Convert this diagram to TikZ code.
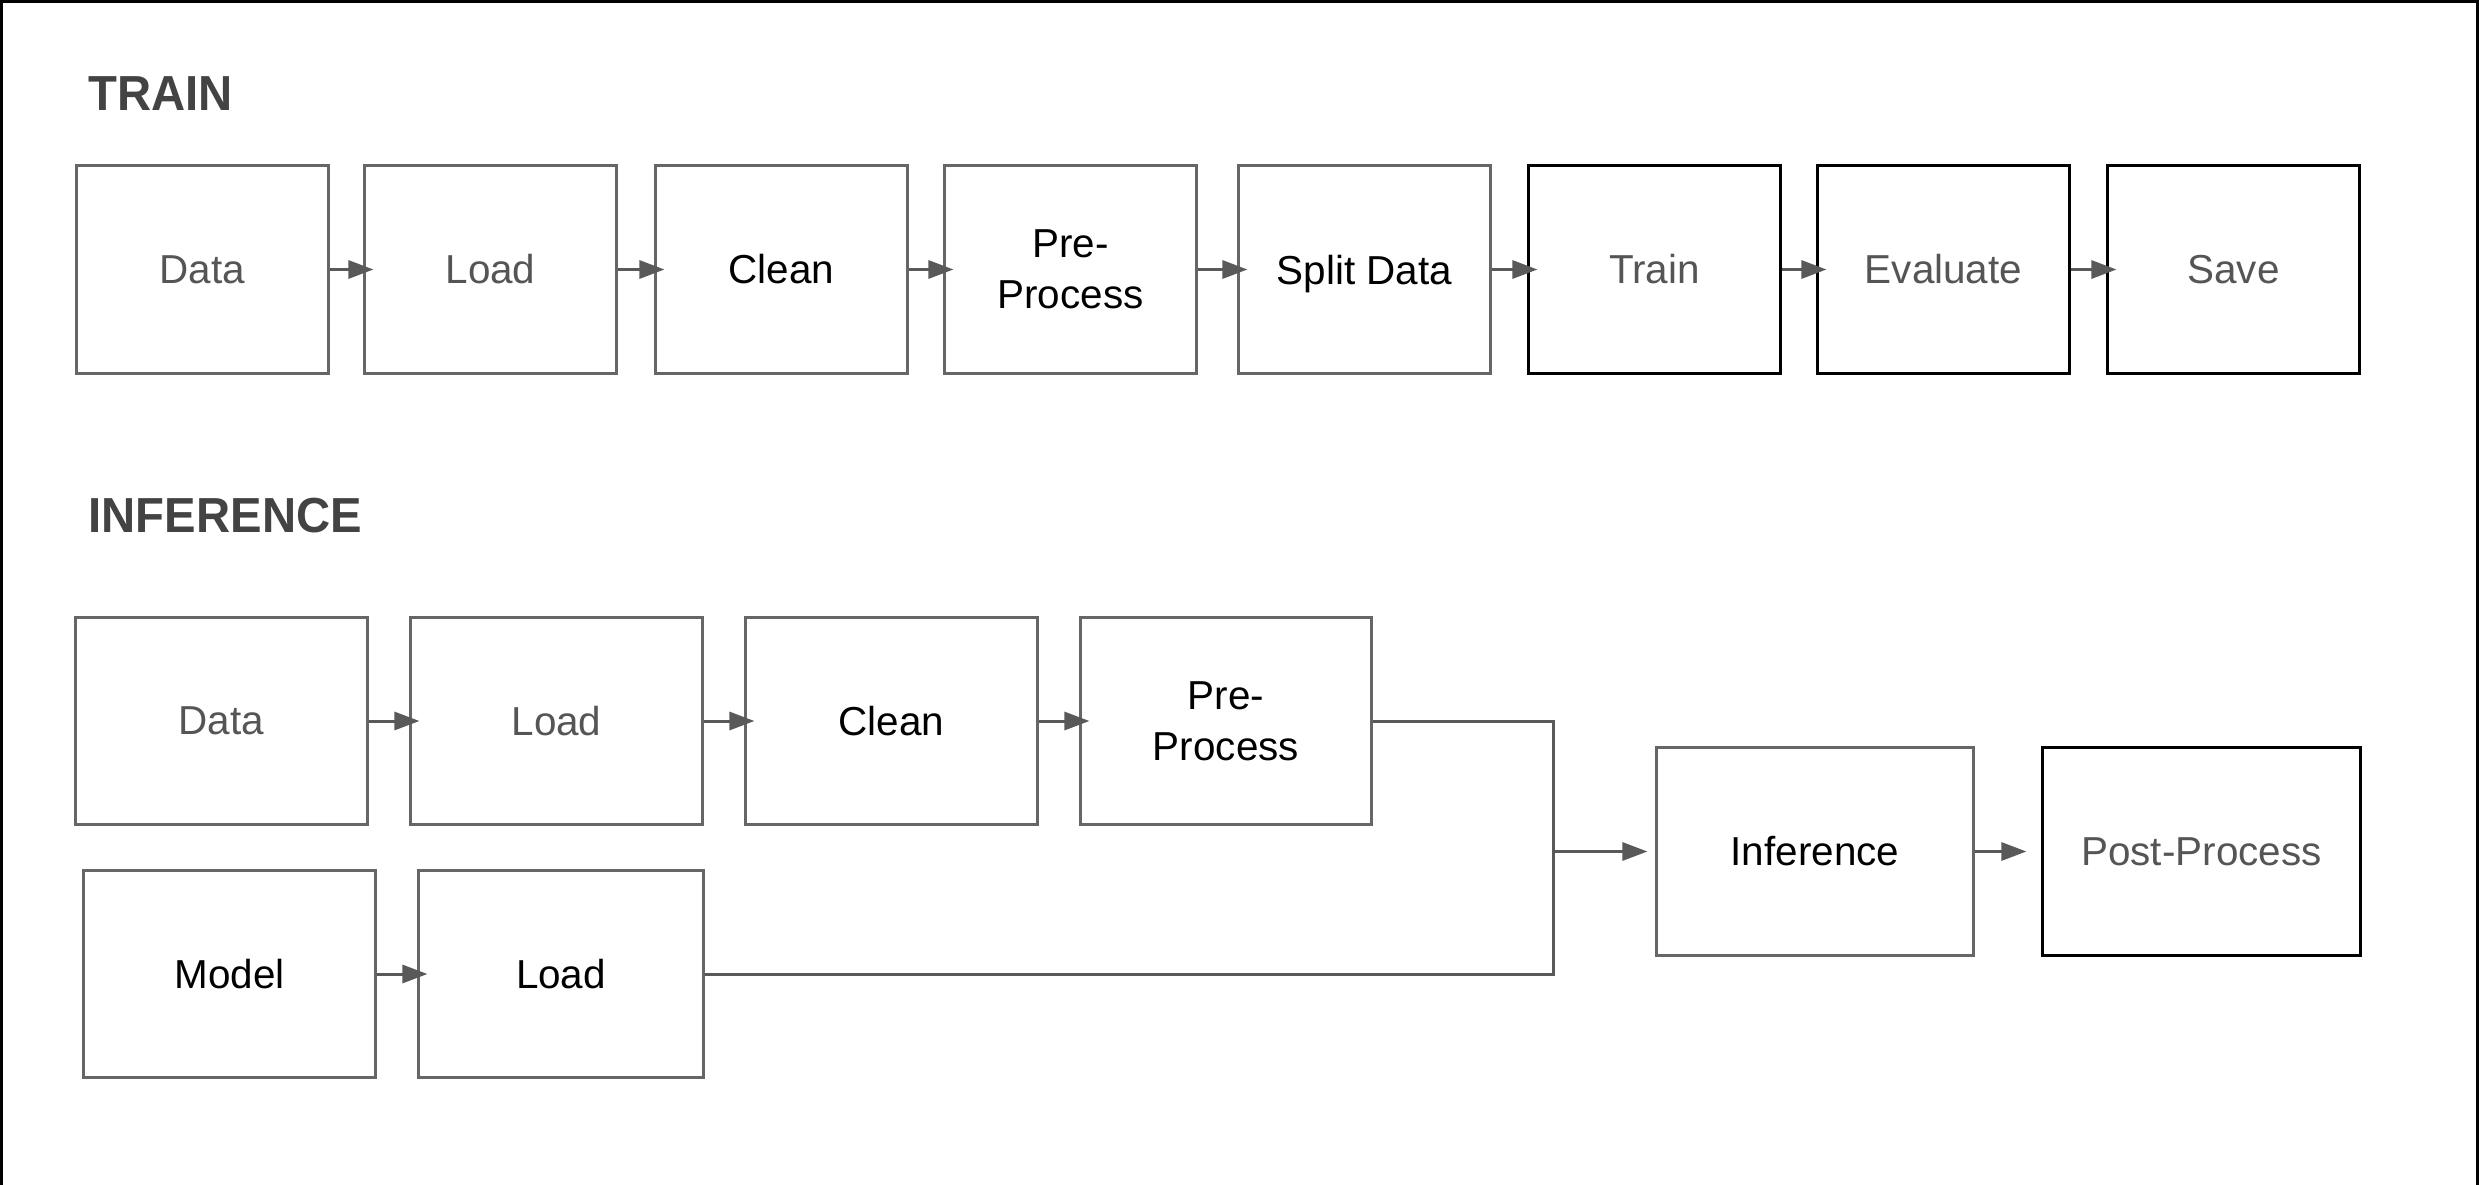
\documentclass[tikz,border=0pt]{standalone}
\usepackage{fontspec}
\setmainfont{Liberation Sans}
\newfontfamily\ttlfont[FakeStretch=0.96]{Liberation Sans}
\usepackage{xcolor}
\usetikzlibrary{arrows.meta,positioning,calc}
\definecolor{boxgray}{HTML}{666666}
\definecolor{txtgray}{HTML}{555555}
\definecolor{arrgray}{HTML}{595959}
\definecolor{ttlgray}{HTML}{434343}

\begin{document}
\begin{tikzpicture}[x=0.01cm,y=-0.01cm,
  every node/.style={font=\fontsize{11.5pt}{14.5pt}\selectfont,align=center,inner sep=0pt},
  stage/.style={draw=boxgray,line width=0.85pt,minimum width=2.51cm,minimum height=2.07cm},
  dark/.style={stage,draw=black},
  title/.style={font=\fontsize{14pt}{16pt}\ttlfont\bfseries,text=ttlgray,anchor=base west},
  flow/.style={-{Triangle[length=0.25cm,width=0.18cm]},draw=arrgray,fill=arrgray,line width=0.85pt},
  into/.style={flow,shorten >=-0.1cm},
  wire/.style={draw=arrgray,line width=0.85pt}]
\useasboundingbox (0,0) rectangle (2479,1185);
% frame (left, top, right)
\draw[line width=0.85pt] (1.5,1185) -- (1.5,1.5) -- (2477.5,1.5) -- (2477.5,1185);
% training pipeline
\node[title] (ttrain) at (88,111) {TRAIN};
\node[stage,text=txtgray] (tdata) at (202.5,269.5) {Data};
\node[stage,text=txtgray] (tload) at (490.5,269.5) {Load};
\node[stage] (tclean) at (781.5,269.5) {Clean};
\node[stage] (tprep) at (1070.5,269.5) {Pre-\\Process};
\node[stage,text depth=0pt] (tsplit) at (1364.5,269.5) {Split Data};
\node[dark,text=txtgray] (tfit) at (1654.5,269.5) {Train};
\node[dark,text=txtgray] (teval) at (1943.5,269.5) {Evaluate};
\node[dark,text=txtgray] (tsave) at (2233.5,269.5) {Save};
\draw[into] (tdata) -- (tload); \draw[into] (tload) -- (tclean);
\draw[into] (tclean) -- (tprep); \draw[into] (tprep) -- (tsplit);
\draw[into] (tsplit) -- (tfit); \draw[into] (tfit) -- (teval);
\draw[into] (teval) -- (tsave);
% inference pipeline
\node[title] (tinfer) at (88,532) {INFERENCE};
\node[stage,minimum width=2.91cm,text=txtgray] (idata) at (221.5,721) {Data};
\node[stage,minimum width=2.91cm,text=txtgray] (iload) at (556.5,721) {Load};
\node[stage,minimum width=2.91cm] (iclean) at (891.5,721) {Clean};
\node[stage,minimum width=2.90cm] (iprep) at (1226,721) {Pre-\\Process};
\node[stage,minimum width=2.91cm] (imodel) at (229.5,974) {Model};
\node[stage,minimum width=2.84cm] (mload) at (561,974) {Load};
\node[stage,minimum width=3.16cm] (irun) at (1815,851.5) {Inference};
\node[dark,minimum width=3.17cm,text=txtgray] (ipost) at (2201.5,851.5) {Post-Process};
\coordinate (merge) at (1553,851.5);
\draw[into] (idata) -- (iload); \draw[into] (iload) -- (iclean);
\draw[into] (iclean) -- (iprep); \draw[into] (imodel) -- (mload);
\draw[wire] (iprep.east) -| (merge) |- (mload.east);
\draw[flow,shorten >=0.08cm] (merge) -- (irun);
\draw[flow,shorten >=0.15cm] (irun) -- (ipost);
\end{tikzpicture}
\end{document}
